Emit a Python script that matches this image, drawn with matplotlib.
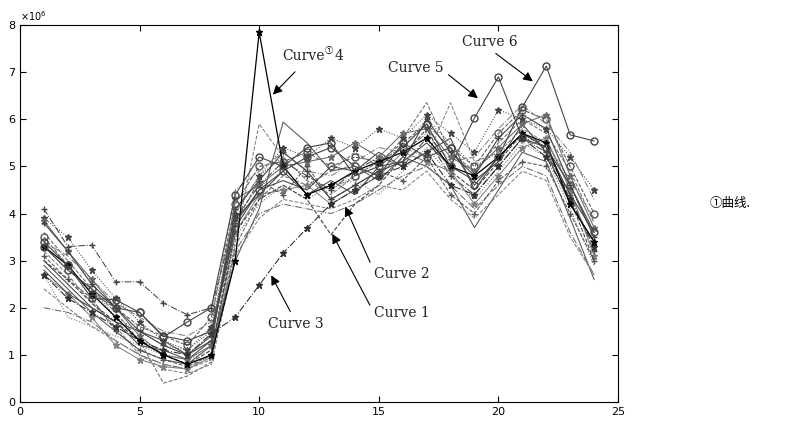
import numpy as np
import matplotlib.pyplot as plt

# hours 1..24, values in units of 1e6
hours = list(range(1, 25))

curve1 = [3.0, 2.6, 2.1, 1.7, 1.3, 1.0, 0.8, 1.1, 3.6, 4.3, 4.6, 4.3, 3.55, 4.2, 4.6, 5.2, 5.8, 4.9, 4.5, 5.1, 5.7, 5.4, 4.3, 3.0]
curve2 = [3.8, 3.2, 2.5, 2.0, 1.5, 1.2, 1.0, 1.3, 4.1, 4.7, 5.3, 4.9, 4.3, 4.6, 4.9, 5.1, 6.0, 5.3, 4.8, 5.6, 6.1, 5.8, 4.6, 3.5]
curve3 = [2.7, 2.2, 1.9, 1.6, 1.3, 1.1, 1.0, 1.45, 1.8, 2.48, 3.16, 3.69, 4.2, 4.5, 4.8, 5.0, 5.3, 4.6, 4.4, 5.0, 5.6, 5.2, 4.3, 3.3]
curve4 = [3.3, 2.9, 2.3, 1.8, 1.3, 1.0, 0.8, 1.0, 3.0, 7.85, 5.0, 4.4, 4.6, 4.9, 5.1, 5.3, 5.6, 5.0, 4.8, 5.2, 5.7, 5.5, 4.2, 3.4]
curve5 = [3.4, 2.9, 2.2, 2.17, 1.9, 1.38, 1.7, 2.0, 4.4, 5.2, 5.0, 5.4, 5.5, 4.8, 5.0, 5.4, 5.9, 5.0, 6.03, 6.9, 5.6, 5.4, 4.6, 3.6]
curve6 = [3.3, 2.8, 2.4, 2.0, 1.9, 1.4, 1.3, 1.5, 3.8, 4.5, 4.9, 5.2, 5.4, 5.0, 4.8, 5.5, 5.2, 5.4, 4.6, 5.2, 6.26, 7.13, 5.67, 5.54]

other_curves = [
    [4.1, 3.3, 3.33, 2.55, 2.55, 2.1, 1.85, 2.0, 3.9, 4.6, 5.1, 4.8, 4.5, 4.9, 5.2, 5.0, 5.6, 4.8, 4.4, 5.0, 5.6, 5.3, 4.4, 3.2],
    [3.6, 3.0, 2.4, 1.9, 1.3, 0.4, 0.55, 0.85, 3.3, 4.3, 4.8, 4.6, 4.9, 5.3, 5.0, 5.6, 6.35, 5.3, 4.9, 5.5, 6.0, 5.7, 4.9, 3.8],
    [3.2, 2.7, 2.1, 1.6, 1.0, 0.8, 0.7, 0.9, 3.4, 5.9, 5.2, 4.7, 4.4, 4.8, 5.1, 5.4, 5.2, 6.35, 5.1, 5.3, 5.8, 5.5, 4.7, 3.9],
    [2.9, 2.4, 1.9, 1.5, 1.1, 0.9, 0.8, 1.2, 3.0, 4.1, 5.94, 5.5, 4.9, 5.0, 4.7, 5.2, 5.0, 4.6, 3.7, 4.5, 5.3, 5.1, 3.9, 2.6],
    [3.9, 3.5, 2.8, 2.2, 1.7, 1.3, 1.1, 1.6, 4.0, 4.8, 5.4, 5.2, 5.6, 5.4, 5.8, 5.6, 6.1, 5.7, 5.3, 6.2, 6.0, 5.8, 5.2, 4.5],
    [2.0, 1.9, 1.7, 1.3, 1.0, 0.8, 0.7, 1.0, 3.2, 4.0, 4.2, 4.1, 4.0, 4.2, 4.5, 4.8, 5.0, 4.6, 4.1, 4.6, 5.0, 4.8, 3.6, 2.7],
    [2.7, 2.3, 1.8, 1.2, 0.9, 0.75, 0.7, 0.95, 3.6, 4.4, 4.5, 4.6, 4.2, 4.5, 4.8, 5.3, 5.1, 4.9, 4.2, 4.8, 5.4, 5.6, 4.5, 3.1],
    [3.5, 2.9, 2.3, 2.0, 1.6, 1.4, 1.2, 1.8, 4.2, 5.0, 5.1, 5.3, 5.0, 5.2, 5.1, 5.5, 5.9, 5.4, 5.0, 5.7, 6.2, 6.0, 5.0, 4.0],
    [3.0, 2.5, 2.0, 1.7, 1.2, 1.1, 0.9, 1.3, 3.9, 4.4, 4.9, 4.4, 4.7, 4.4, 5.0, 5.1, 5.5, 5.0, 4.7, 5.1, 5.9, 5.3, 4.2, 3.4],
    [2.7, 1.8, 1.6, 1.4, 1.2, 1.0, 0.9, 1.1, 3.5, 4.2, 4.6, 4.3, 4.6, 4.7, 4.4, 4.9, 5.4, 4.8, 4.3, 4.9, 5.5, 5.2, 4.1, 2.9],
    [3.4, 3.1, 2.6, 2.1, 1.8, 1.5, 1.4, 1.7, 4.5, 4.9, 5.3, 4.9, 4.8, 5.1, 5.4, 5.3, 5.7, 5.1, 5.2, 5.8, 6.3, 5.9, 5.3, 4.3],
    [3.1, 2.6, 2.2, 1.5, 1.1, 0.9, 0.75, 1.0, 3.8, 4.7, 4.4, 5.0, 4.3, 4.6, 4.9, 4.7, 5.2, 4.4, 4.0, 4.7, 5.1, 5.0, 4.0, 3.0],
    [2.8, 2.3, 2.0, 1.7, 1.5, 1.3, 1.0, 1.4, 3.7, 4.5, 4.7, 4.5, 5.0, 4.9, 5.3, 5.0, 5.3, 5.6, 4.5, 5.2, 5.7, 5.4, 4.4, 3.6],
    [3.85, 3.2, 2.6, 2.0, 1.4, 1.0, 0.9, 1.2, 4.3, 4.6, 5.0, 5.1, 5.2, 5.5, 5.2, 5.7, 5.8, 5.2, 4.9, 5.4, 5.9, 6.1, 4.8, 3.7],
    [2.4, 2.0, 1.6, 1.3, 1.0, 0.7, 0.6, 0.8, 3.1, 3.9, 4.3, 4.2, 4.1, 4.3, 4.6, 4.5, 4.9, 4.3, 3.9, 4.4, 4.9, 4.7, 3.5, 2.7],
    [3.3, 2.8, 2.4, 1.8, 1.5, 1.2, 1.1, 1.5, 4.0, 4.8, 5.2, 4.7, 4.5, 4.8, 5.1, 5.4, 6.0, 5.5, 5.0, 5.3, 5.6, 5.5, 4.6, 3.5],
]
other_markers = ['+', '', '', '', '*', '', '*', 'o', '', '', '', '+', '', '*', '', '']
other_styles = ['-.', '--', '--', '-', ':', '-.', '-', '--', '-', ':', '-.', '--', '-', '-', '--', ':']

fig = plt.figure(figsize=(7.89, 4.24), dpi=100)
ax = fig.add_axes([0.0253, 0.0519, 0.758, 0.889])

for i, ys in enumerate(other_curves):
    grey = ['#444444', '#6a6a6a', '#808080', '#555555'][i % 4]
    ax.plot(hours, np.array(ys) * 1e6, color=grey, lw=0.75, ls=other_styles[i],
            marker=other_markers[i], ms=5, mfc='none' if other_markers[i] == 'o' else grey)

ax.plot(hours, np.array(curve1) * 1e6, color='#444444', lw=0.8, ls='--')
ax.plot(hours, np.array(curve2) * 1e6, color='#444444', lw=0.8, marker='+', ms=5)
ax.plot(hours, np.array(curve3) * 1e6, color='#333333', lw=0.8, ls='-.', marker='*', ms=5)
ax.plot(hours, np.array(curve4) * 1e6, color='black', lw=0.9, marker='*', ms=5)
ax.plot(hours, np.array(curve5) * 1e6, color='#444444', lw=0.8, marker='o', ms=5, mfc='none')
ax.plot(hours, np.array(curve6) * 1e6, color='#444444', lw=0.8, marker='o', ms=5, mfc='none')

ax.set_xlim(0, 25)
ax.set_ylim(0, 8e6)
ax.set_xticks([0, 5, 10, 15, 20, 25])
ax.set_yticks(np.arange(0, 9) * 1e6)
ax.set_yticklabels([str(v) for v in range(9)])
ax.tick_params(direction='in', top=True, right=True, labelsize=8, length=4)
ax.text(0, 1.01, r'$\times 10^6$', transform=ax.transAxes, fontsize=7)

# annotations
font = dict(family='DejaVu Serif', fontsize=10, color='#222222')
arrow = dict(arrowstyle='-|>', color='black', lw=0.8, mutation_scale=14)

t4 = ax.text(10.95, 7.26e6, 'Curve', va='baseline', **font)
ax.annotate('①', xy=(1.0, 0.55), xycoords=t4, xytext=(0.5, 0), textcoords='offset points',
            fontsize=6, family=['Noto Sans CJK SC', 'DejaVu Sans'], va='bottom')
ax.annotate('4', xy=(1.0, 0.0), xycoords=t4, xytext=(7.5, 0), textcoords='offset points',
            va='bottom', fontsize=10, family='DejaVu Serif', color='#222222')
ax.annotate('', xy=(10.49, 6.48e6), xytext=(11.58, 7.05e6), arrowprops=arrow)

ax.annotate('Curve 5', xy=(19.23, 6.41e6), xytext=(15.38, 7.09e6), va='center',
            arrowprops=dict(arrow, relpos=(1, 0.3)), **font)
ax.annotate('Curve 6', xy=(21.53, 6.77e6), xytext=(18.48, 7.64e6), va='center',
            arrowprops=dict(arrow, relpos=(0.5, 0)), **font)
ax.annotate('Curve 2', xy=(13.55, 4.2e6), xytext=(14.8, 2.72e6), va='center',
            arrowprops=dict(arrow, relpos=(0, 0.7)), **font)
ax.annotate('Curve 1', xy=(13.0, 3.62e6), xytext=(14.8, 1.89e6), va='center',
            arrowprops=dict(arrow, relpos=(0, 0.5)), **font)
ax.annotate('Curve 3', xy=(10.45, 2.74e6), xytext=(10.37, 1.66e6), va='center',
            arrowprops=dict(arrow, relpos=(0.45, 1)), **font)

fig.text(0.9, 0.521, '①曲线.', fontsize=9, va='center',
         family=['Noto Sans CJK SC', 'DejaVu Sans'])

fig.savefig('out.png', dpi=100)
